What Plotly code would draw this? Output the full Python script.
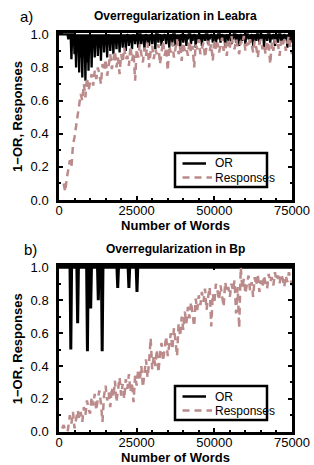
import plotly.graph_objects as go

# ---------------- data ----------------
# Panel a (Leabra)
resp_a_x = list(range(1500, 75001, 500))
resp_a_y = [0.10, 0.05, 0.13, 0.18, 0.24, 0.20, 0.33, 0.38, 0.45, 0.52, 0.58,
            0.64, 0.60, 0.70, 0.62, 0.74, 0.66, 0.72, 0.76, 0.69, 0.78,
            0.73, 0.80, 0.76, 0.70, 0.82, 0.78, 0.85, 0.75, 0.81, 0.88,
            0.79, 0.84, 0.90, 0.80, 0.86, 0.76, 0.88, 0.83, 0.92, 0.85,
            0.87, 0.81, 0.93, 0.84, 0.89, 0.72, 0.91, 0.86, 0.94, 0.88,
            0.83, 0.92, 0.87, 0.95, 0.80, 0.90, 0.93, 0.85, 0.91, 0.88,
            0.94, 0.82, 0.90, 0.96, 0.87, 0.92, 0.78, 0.93, 0.89, 0.95,
            0.86, 0.91, 0.97, 0.88, 0.93, 0.84, 0.95, 0.90, 0.92, 0.87,
            0.96, 0.89, 0.93, 0.80, 0.94, 0.91, 0.97, 0.88, 0.92, 0.95,
            0.86, 0.93, 0.96, 0.90, 0.94, 0.84, 0.97, 0.91, 0.95, 0.89,
            0.93, 0.98, 0.90, 0.95, 0.87, 0.96, 0.92, 0.99, 0.94, 0.91,
            0.97, 0.93, 0.88, 0.96, 0.94, 0.99, 0.90, 0.95, 0.92, 0.97,
            0.94, 0.89, 0.96, 0.92, 0.86, 0.95, 0.97, 0.91, 0.94, 0.88,
            0.96, 0.93, 0.82, 0.95, 0.90, 0.97, 0.92, 0.94, 0.87, 0.96,
            0.93, 0.97, 0.90, 0.95, 0.99, 0.92, 0.88]

# OR dips, one per 500 words (the curve returns to 1.0 between dips)
or_a_dip_x = list(range(0, 75001, 500))
or_a_dip_y = [1.0, 1.0, 1.0, 1.0, 1.0, 1.0, 0.97, 1.0, 0.85, 1.0,
              0.88, 0.80, 0.96, 0.77, 0.86, 0.74, 0.92, 0.72, 0.83, 0.78,
              0.90, 0.80, 0.93, 0.86, 0.96, 0.87, 0.92, 0.84, 0.97, 0.89,
              0.94, 0.86, 0.98, 0.90, 0.95, 0.88, 0.97, 0.91, 0.95, 0.89,
              0.98, 0.92, 0.96, 0.90, 0.99, 0.93, 0.95, 0.91, 0.98, 0.94,
              0.96, 0.92, 1.0, 0.94, 0.97, 0.91, 0.99, 0.95, 0.93, 0.98,
              0.94, 0.97, 0.91, 1.0, 0.95, 0.98, 0.93, 0.96, 0.99, 0.94,
              0.97, 0.92, 0.98, 0.95, 1.0, 0.93, 0.97, 0.96, 0.91, 0.99,
              0.95, 0.98, 0.93, 0.97, 1.0, 0.94, 0.96, 0.99, 0.92, 0.97,
              0.95, 0.99, 0.93, 0.98, 0.96, 1.0, 0.94, 0.97, 0.99, 0.95,
              0.98, 0.93, 0.97, 1.0, 0.95, 0.99, 0.96, 0.92, 0.98, 0.96,
              0.99, 0.94, 0.97, 1.0, 0.95, 0.98, 0.93, 0.99, 0.96, 0.98,
              0.94, 1.0, 0.97, 0.95, 0.99, 0.93, 0.98, 0.96, 1.0, 0.94,
              0.97, 0.99, 0.92, 0.98, 0.96, 1.0, 0.95, 0.97, 0.99, 0.93,
              0.98, 0.95, 1.0, 0.96, 0.94, 0.99, 0.97, 0.92, 0.98, 0.95,
              0.97]

# Panel b (Bp)
resp_b_x = list(range(1000, 75001, 500))
resp_b_y = [0.02, 0.04, 0.01, -0.04, 0.03, 0.10, 0.05, 0.12, 0.02, 0.09,
            0.13, 0.08, 0.12, 0.06, 0.15, 0.10, 0.19, 0.14, 0.11, 0.21,
            0.16, 0.23, 0.13, 0.20, 0.25, 0.17, 0.06, 0.22, 0.28, 0.19,
            0.24, 0.15, 0.27, 0.21, 0.31, 0.18, 0.26, 0.33, 0.22, 0.29,
            0.20, 0.32, 0.26, 0.35, 0.24, 0.30, 0.18, 0.34, 0.28, 0.38,
            0.31, 0.40, 0.27, 0.36, 0.44, 0.33, 0.42, 0.57, 0.38, 0.46,
            0.40, 0.50, 0.36, 0.47, 0.54, 0.43, 0.52, 0.58, 0.46, 0.55,
            0.60, 0.50, 0.63, 0.55, 0.46, 0.66, 0.58, 0.70, 0.62, 0.73,
            0.66, 0.76, 0.69, 0.79, 0.72, 0.64, 0.81, 0.74, 0.83, 0.77,
            0.85, 0.79, 0.87, 0.74, 0.82, 0.88, 0.64, 0.84, 0.78, 0.90,
            0.86, 0.80, 0.89, 0.83, 0.76, 0.91, 0.85, 0.88, 0.82, 0.90,
            0.86, 0.92, 0.72, 0.88, 0.63, 1.00, 0.87, 0.93, 0.84, 0.90,
            0.95, 0.86, 0.91, 0.82, 0.94, 0.89, 0.96, 0.85, 0.92, 0.88,
            0.95, 0.90, 0.87, 0.96, 0.91, 0.94, 0.89, 0.97, 0.92, 0.95,
            0.90, 0.96, 0.93, 0.88, 0.95, 0.91, 0.97, 0.93, 0.89]

or_b_spike_x = [3800, 6000, 9150, 10200, 12650, 13900, 18900, 22500, 25100]
or_b_spike_y = [0.50, 0.66, 0.49, 0.75, 0.80, 0.49, 0.875, 0.875, 0.85]
or_b_x_end = 75000

x_ticks = [0, 25000, 50000, 75000]
y_ticks = [0.0, 0.2, 0.4, 0.6, 0.8, 1.0]
legend_labels = ["OR", "Responses"]

# build OR a path: dip, back to 1.0, dip, ...
or_a_x, or_a_y = [], []
for dx, dy in zip(or_a_dip_x, or_a_dip_y):
    or_a_x += [dx, dx + 250]
    or_a_y += [dy, 1.0]

# build OR b path from spikes
or_b_x = [0]
or_b_y = [1.0]
for sx, sy in zip(or_b_spike_x, or_b_spike_y):
    or_b_x += [sx - 250, sx, sx + 250]
    or_b_y += [1.0, sy, 1.0]
or_b_x.append(or_b_x_end)
or_b_y.append(1.0)

PINK = "#bb8a8a"
DASH = "7px,5px"
FONT = "Liberation Sans, Arial, sans-serif"
W, H = 314, 465

fig = go.Figure()
fig.add_trace(go.Scatter(x=or_a_x, y=or_a_y, mode="lines", name="OR",
                         line=dict(color="black", width=2.3), xaxis="x", yaxis="y"))
fig.add_trace(go.Scatter(x=resp_a_x, y=resp_a_y, mode="lines", name="Responses",
                         line=dict(color=PINK, width=2.5, dash=DASH),
                         xaxis="x", yaxis="y"))
fig.add_trace(go.Scatter(x=or_b_x, y=or_b_y, mode="lines", name="OR",
                         line=dict(color="black", width=3), xaxis="x2", yaxis="y2"))
fig.add_trace(go.Scatter(x=resp_b_x, y=resp_b_y, mode="lines", name="Responses",
                         line=dict(color=PINK, width=2.5, dash=DASH),
                         xaxis="x2", yaxis="y2"))

xdom = [59 / W, 292 / W]
ya_dom = [1 - 200 / H, 1 - 33 / H]
yb_dom = [1 - 431.7 / H, 1 - 266 / H]

def xaxis(anchor, dom):
    return dict(domain=dom, anchor=anchor, range=[0, 75000], tickvals=x_ticks,
                ticktext=[str(v) for v in x_ticks], ticks="inside", ticklen=4,
                tickwidth=1.5, tickcolor="black", showline=True, linewidth=2.5,
                linecolor="black", mirror="allticks", showgrid=False, zeroline=False,
                minor=dict(dtick=5000, ticks="inside", ticklen=2, tickcolor="black"),
                ticklabelstandoff=-3,
                tickfont=dict(family=FONT, size=13, color="black"), automargin=False,
                title=dict(text="<b>Number of Words</b>", standoff=2,
                           font=dict(family=FONT, size=13, color="black")))

def yaxis(anchor, dom):
    return dict(domain=dom, anchor=anchor, range=[0, 1.008], tickvals=y_ticks,
                ticktext=["%.1f" % v for v in y_ticks], ticks="inside", ticklen=4,
                tickwidth=1.5, tickcolor="black", showline=True, linewidth=2.5,
                linecolor="black", mirror="allticks", showgrid=False, zeroline=False,
                minor=dict(dtick=0.1, ticks="inside", ticklen=2, tickcolor="black"),
                ticklabelstandoff=5, automargin=False,
                tickfont=dict(family=FONT, size=13, color="black"),
                title=dict(text="<b>1\u2212OR, Responses</b>", standoff=6,
                           font=dict(family=FONT, size=13, color="black")))

shapes = []
annotations = []
# manual legends (box, line samples, labels) for both panels, in pixel positions
for box_top in (153, 386):
    shapes.append(dict(type="rect", xref="paper", yref="paper",
                       x0=175 / W, x1=267 / W, y0=1 - (box_top + 34) / H, y1=1 - box_top / H,
                       line=dict(color="black", width=2.5), fillcolor="white", layer="above"))
    rows = [(box_top + 10.5, "black", "solid", 206), (box_top + 24.5, PINK, DASH, 212)]
    for (yy, col, dash, xend), lab in zip(rows, legend_labels):
        shapes.append(dict(type="line", xref="paper", yref="paper",
                           x0=182.5 / W, x1=xend / W, y0=1 - yy / H, y1=1 - yy / H,
                           line=dict(color=col, width=2.5, dash=dash), layer="above"))
        annotations.append(dict(text=lab, x=213 / W, y=1 - yy / H, xref="paper", yref="paper",
                                xanchor="left", yanchor="middle", showarrow=False,
                                font=dict(family=FONT, size=12, color="black")))

annotations += [
    dict(text="<b>Overregularization in Leabra</b>", x=175 / W, y=1 - 16 / H,
         xanchor="center", yanchor="middle",
         xref="paper", yref="paper", showarrow=False,
         font=dict(family=FONT, size=12, color="black")),
    dict(text="a)", x=26 / W, y=1 - 16 / H, xref="paper", yref="paper",
         xanchor="center", yanchor="middle",
         showarrow=False, font=dict(family=FONT, size=15, color="black")),
    dict(text="<b>Overregularization in Bp</b>", x=175 / W, y=1 - 249 / H,
         xanchor="center", yanchor="middle",
         xref="paper", yref="paper", showarrow=False,
         font=dict(family=FONT, size=12, color="black")),
    dict(text="b)", x=30 / W, y=1 - 249 / H, xref="paper", yref="paper",
         xanchor="center", yanchor="middle",
         showarrow=False, font=dict(family=FONT, size=15, color="black")),
]

fig.update_layout(
    width=W, height=H, margin=dict(l=0, r=0, t=0, b=0), showlegend=False,
    paper_bgcolor="white", plot_bgcolor="white",
    xaxis=xaxis("y", xdom), yaxis=yaxis("x", ya_dom),
    xaxis2=xaxis("y2", xdom), yaxis2=yaxis("x2", yb_dom),
    shapes=shapes, annotations=annotations,
)

fig.write_html("out.html", config={"displayModeBar": False},
               post_script="document.body.style.margin='0px';")
